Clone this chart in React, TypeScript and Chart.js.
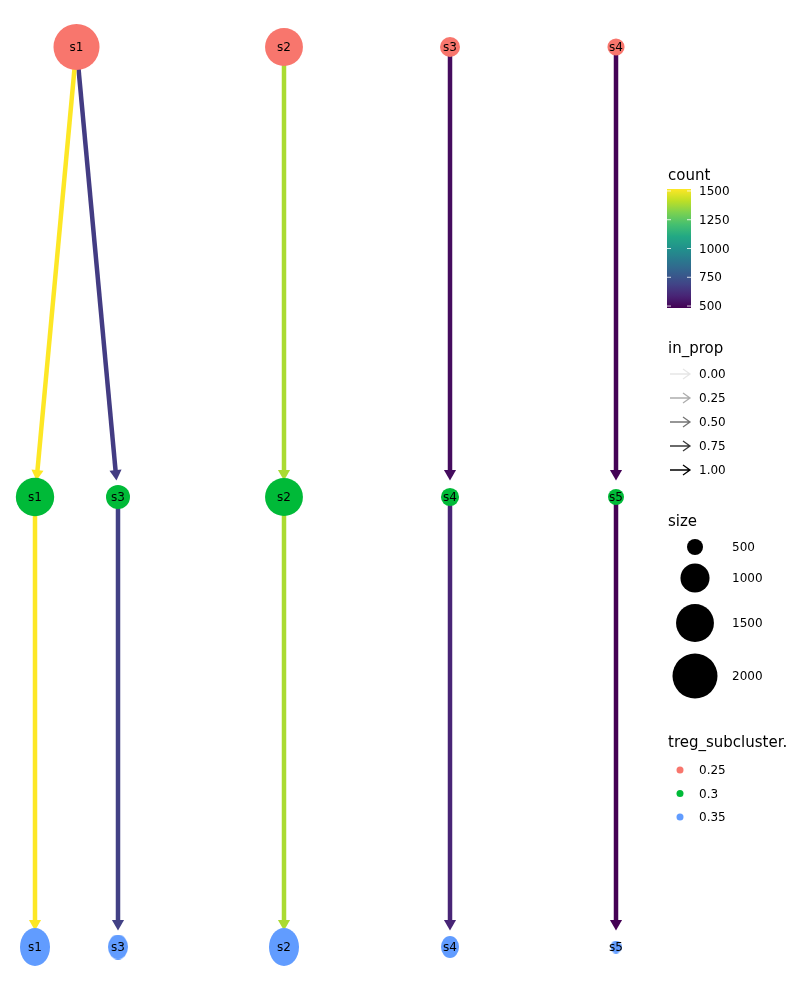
import React, { useEffect, useRef } from "react";
import { Chart, registerables } from "chart.js";

Chart.register(...registerables);

// ---------- data ----------
const LEVELS = [0.25, 0.3, 0.35];
const LEVEL_LABELS = ["0.25", "0.3", "0.35"];
const LEVEL_COLORS = ["#F8766D", "#00BA38", "#619CFF"];

const topNames = ["s1", "s2", "s3", "s4"];
const topX = [0.25, 1.5, 2.5, 3.5];
const topSize = [2080, 1500, 620, 530];

const midNames = ["s1", "s3", "s2", "s4", "s5"];
const midX = [0, 0.5, 1.5, 2.5, 3.5];
const midSize = [1530, 770, 1500, 560, 500];

const botNames = ["s1", "s3", "s2", "s4", "s5"];
const botX = [0, 0.5, 1.5, 2.5, 3.5];
const botSize = [1500, 810, 1500, 690, 430];

const edgeFromLevel = [0, 0, 0, 0, 0, 1, 1, 1, 1, 1];
const edgeFrom = ["s1", "s1", "s2", "s3", "s4", "s1", "s3", "s2", "s4", "s5"];
const edgeTo = ["s1", "s3", "s2", "s4", "s5", "s1", "s3", "s2", "s4", "s5"];
const edgeCount = [1517, 665, 1385, 515, 490, 1517, 680, 1385, 590, 483];
const edgeInProp = [1, 1, 1, 1, 1, 1, 1, 1, 1, 1];

const COUNT_MIN = 483;
const COUNT_MAX = 1517;
const countTicks = [500, 750, 1000, 1250, 1500];
const inPropTicks = [0, 0.25, 0.5, 0.75, 1];
const inPropLabels = ["0.00", "0.25", "0.50", "0.75", "1.00"];
const sizeTicks = [500, 1000, 1500, 2000];

// ---------- helpers ----------
const VIRIDIS = [
  "#440154", "#482475", "#414487", "#355F8D", "#2A788E", "#21918C",
  "#22A884", "#44BF70", "#7AD151", "#BDDF26", "#FDE725",
];
function hexToRgb(h: string) {
  const n = parseInt(h.slice(1), 16);
  return [(n >> 16) & 255, (n >> 8) & 255, n & 255];
}
function viridis(t: number, alpha = 1) {
  t = Math.max(0, Math.min(1, t));
  const p = t * (VIRIDIS.length - 1);
  const i = Math.min(VIRIDIS.length - 2, Math.floor(p));
  const f = p - i;
  const a = hexToRgb(VIRIDIS[i]);
  const b = hexToRgb(VIRIDIS[i + 1]);
  const c = a.map((v, k) => Math.round(v + (b[k] - v) * f));
  return `rgba(${c[0]},${c[1]},${c[2]},${alpha})`;
}
function countColor(c: number, alpha = 1) {
  return viridis((c - COUNT_MIN) / (COUNT_MAX - COUNT_MIN), alpha);
}
function sizeRadius(s: number) {
  return Math.sqrt(Math.max(4, -83 + 0.2947 * s));
}
const ARROW_GAP = 0.0026;
const ARROW_R = 7;

const levelNodes = [
  { names: topNames, x: topX, size: topSize },
  { names: midNames, x: midX, size: midSize },
  { names: botNames, x: botX, size: botSize },
];

function ellipseImage(r: number, color: string) {
  const w = Math.max(2, Math.round(2 * r * 0.8));
  const h = Math.max(2, Math.round(2 * r));
  const c = document.createElement("canvas");
  c.width = w;
  c.height = h;
  const g = c.getContext("2d")!;
  g.fillStyle = color;
  g.beginPath();
  g.ellipse(w / 2, h / 2, w / 2, h / 2, 0, 0, Math.PI * 2);
  g.fill();
  return c;
}

const FONT = "'DejaVu Sans', sans-serif";

const nodeLabelPlugin = {
  id: "nodeLabels",
  afterDatasetsDraw(chart: any) {
    const ctx = chart.ctx;
    ctx.save();
    ctx.fillStyle = "#000";
    ctx.font = `12px ${FONT}`;
    ctx.textAlign = "center";
    ctx.textBaseline = "middle";
    chart.data.datasets.forEach((ds: any, i: number) => {
      if (!ds.nodeNames) return;
      const meta = chart.getDatasetMeta(i);
      meta.data.forEach((el: any, j: number) => {
        ctx.fillText(ds.nodeNames[j], el.x, el.y + 1);
      });
    });
    ctx.restore();
  },
};

const legendPlugin = {
  id: "customLegend",
  afterDraw(chart: any) {
    const ctx = chart.ctx;
    ctx.save();
    const lx = 668;
    // count
    ctx.fillStyle = "#000";
    ctx.font = `15px ${FONT}`;
    ctx.textBaseline = "alphabetic";
    ctx.textAlign = "left";
    ctx.fillText("count", lx, 180);
    const barTop = 189, barBot = 308, barL = 667, barW = 24;
    const grad = ctx.createLinearGradient(0, barBot, 0, barTop);
    for (let i = 0; i <= 20; i++) grad.addColorStop(i / 20, viridis(i / 20));
    ctx.fillStyle = grad;
    ctx.fillRect(barL, barTop, barW, barBot - barTop);
    ctx.font = `12px ${FONT}`;
    ctx.textBaseline = "middle";
    countTicks.forEach((t) => {
      const y = barBot - ((t - COUNT_MIN) / (COUNT_MAX - COUNT_MIN)) * (barBot - barTop);
      ctx.strokeStyle = "rgba(255,255,255,0.8)";
      ctx.lineWidth = 1;
      ctx.beginPath();
      ctx.moveTo(barL, y); ctx.lineTo(barL + 4, y);
      ctx.moveTo(barL + barW - 4, y); ctx.lineTo(barL + barW, y);
      ctx.stroke();
      ctx.fillStyle = "#000";
      ctx.fillText(String(t), 699, y + 1);
    });
    // in_prop
    ctx.font = `15px ${FONT}`;
    ctx.textBaseline = "alphabetic";
    ctx.fillText("in_prop", lx, 353);
    ctx.font = `12px ${FONT}`;
    ctx.textBaseline = "middle";
    inPropTicks.forEach((p, i) => {
      const y = 374 + i * 24;
      const a = 0.1 + 0.9 * p;
      ctx.strokeStyle = `rgba(0,0,0,${a})`;
      ctx.lineWidth = 1.3;
      ctx.beginPath();
      ctx.moveTo(670, y); ctx.lineTo(690, y);
      ctx.moveTo(683, y - 5); ctx.lineTo(690, y); ctx.lineTo(683, y + 5);
      ctx.stroke();
      ctx.fillStyle = "#000";
      ctx.fillText(inPropLabels[i], 699, y + 1);
    });
    // size
    ctx.font = `15px ${FONT}`;
    ctx.textBaseline = "alphabetic";
    ctx.fillText("size", lx, 526);
    ctx.font = `12px ${FONT}`;
    ctx.textBaseline = "middle";
    const sizeY = [547, 578, 623, 676];
    sizeTicks.forEach((s, i) => {
      ctx.fillStyle = "#000";
      ctx.beginPath();
      ctx.arc(695, sizeY[i], sizeRadius(s), 0, Math.PI * 2);
      ctx.fill();
      ctx.fillText(String(s), 732, sizeY[i] + 1);
    });
    // treg_subcluster.
    ctx.font = `15px ${FONT}`;
    ctx.textBaseline = "alphabetic";
    ctx.fillText("treg_subcluster.", lx, 747);
    ctx.font = `12px ${FONT}`;
    ctx.textBaseline = "middle";
    LEVEL_LABELS.forEach((l, i) => {
      const y = 770 + i * 23.5;
      ctx.fillStyle = LEVEL_COLORS[i];
      ctx.beginPath();
      ctx.arc(680, y, 3.5, 0, Math.PI * 2);
      ctx.fill();
      ctx.fillStyle = "#000";
      ctx.fillText(l, 699, y + 1);
    });
    ctx.restore();
  },
};

export default function App() {
  const ref = useRef<HTMLCanvasElement | null>(null);
  useEffect(() => {
    if (!ref.current) return;
    const datasets: any[] = [];

    // edges
    edgeFrom.forEach((f, i) => {
      const lvl = edgeFromLevel[i];
      const src = levelNodes[lvl];
      const dst = levelNodes[lvl + 1];
      const fx = src.x[src.names.indexOf(f)];
      const tx = dst.x[dst.names.indexOf(edgeTo[i])];
      const fy = LEVELS[lvl];
      const ty = LEVELS[lvl + 1];
      const t = (ty - fy - ARROW_GAP) / (ty - fy);
      const ex = fx + (tx - fx) * t;
      const ey = fy + (ty - fy) * t;
      const color = countColor(edgeCount[i], 0.1 + 0.9 * edgeInProp[i]);
      datasets.push({
        type: "scatter",
        showLine: true,
        data: [{ x: fx, y: fy }, { x: ex, y: ey }],
        borderColor: color,
        borderWidth: 4.5,
        pointRadius: [0, ARROW_R],
        pointStyle: "triangle",
        pointBackgroundColor: color,
        pointBorderWidth: 0,
        pointRotation: (ctx: any) => {
          if (ctx.type !== "data") return 0;
          const d = ctx.dataset.data;
          const xs = ctx.chart.scales.x, ys = ctx.chart.scales.y;
          const dx = xs.getPixelForValue(d[1].x) - xs.getPixelForValue(d[0].x);
          const dy = ys.getPixelForValue(d[1].y) - ys.getPixelForValue(d[0].y);
          return (Math.atan2(dx, -dy) * 180) / Math.PI;
        },
        order: 2,
        clip: false,
      });
    });

    // nodes
    levelNodes.forEach((ln, li) => {
      const radii = ln.size.map(sizeRadius);
      datasets.push({
        type: "scatter",
        nodeNames: ln.names,
        data: ln.x.map((x) => ({ x, y: LEVELS[li] })),
        pointRadius: radii,
        pointStyle: li === 2 ? radii.map((r) => ellipseImage(r, LEVEL_COLORS[li])) : "circle",
        pointBackgroundColor: LEVEL_COLORS[li],
        pointBorderWidth: 0,
        order: 0,
        clip: false,
      });
    });

    const chart = new Chart(ref.current, {
      type: "scatter",
      data: { datasets },
      options: {
        animation: false,
        responsive: false,
        events: [],
        layout: { autoPadding: false, padding: { left: 0, right: 150, top: 0, bottom: 0 } },
        plugins: { legend: { display: false }, tooltip: { enabled: false } },
        scales: {
          x: { type: "linear", display: false, min: -35 / 166, max: -35 / 166 + 650 / 166 },
          y: { type: "linear", display: false, reverse: true, min: 0.25 - 47 / 9000, max: 0.35 + 53 / 9000 },
        },
      },
      plugins: [nodeLabelPlugin, legendPlugin],
    } as any);
    return () => chart.destroy();
  }, []);
  return (
    <div style={{ position: "absolute", left: 0, top: 0, width: 800, height: 1000, background: "#fff" }}>
      <canvas ref={ref} width={800} height={1000} />
    </div>
  );
}
